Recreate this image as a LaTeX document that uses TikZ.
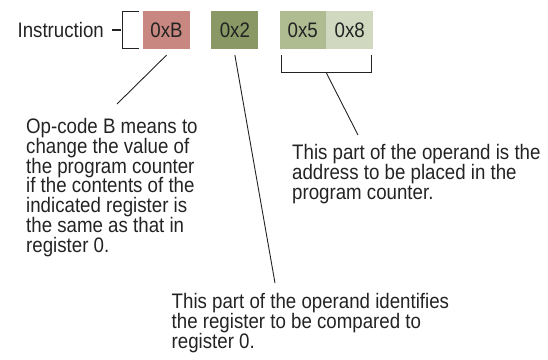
\documentclass[tikz,border=0pt]{standalone}
\usepackage{fontspec}
\setmainfont{Liberation Sans}[FakeStretch=0.89]
\usetikzlibrary{positioning}
\definecolor{OpRed}{RGB}{200,135,128}
\definecolor{RegGreen}{RGB}{137,152,100}
\definecolor{AddrHi}{RGB}{175,187,145}
\definecolor{AddrLo}{RGB}{208,217,192}
\definecolor{Ink}{RGB}{35,35,35}

\begin{document}
\begin{tikzpicture}[x=1pt, y=-1pt,
    every node/.style={font=\fontsize{21}{19.8}\selectfont, text=Ink},
    field/.style={minimum height=38pt, minimum width=47pt, inner sep=0pt},
    note/.style={align=left, inner sep=0pt, anchor=north west},
    bracket/.style={draw=Ink, line width=1.1pt},
    leader/.style={draw=Ink, line width=0.9pt}]
  \useasboundingbox (0,0) rectangle (548,359);
  \node[field, fill=OpRed] (opB) at (166.5,30) {0xB};
  \node[field, fill=RegGreen, right=21pt of opB] (op2) {0x2};
  \node[field, fill=AddrHi, minimum width=46pt, right=21pt of op2] (op5) {0x5};
  \node[field, fill=AddrLo, right=0pt of op5] (op8) {0x8};
  \node[anchor=east, inner sep=0pt] (instr) at (104,30) {Instruction};
  \draw[bracket] ([xshift=8pt]instr.east) -- ++(9,0);
  \draw[bracket] ([xshift=-4pt, yshift=-0.5pt]opB.north west) -- ++(-16.5,0)
    |- ([xshift=-4pt, yshift=0.5pt]opB.south west);
  \draw[bracket] ([xshift=2pt, yshift=-6pt]op5.south west) -- ++(0,17) coordinate (addrbrk)
    -| ([xshift=-2pt, yshift=-6pt]op8.south east);
  \node[note] (noteop) at (26,118) {Op-code B means to\\change the value of\\the program counter\\if the contents of the\\indicated register is\\the same as that in\\register 0.};
  \node[note] (noteaddr) at (292,144) {This part of the operand is the\\address to be placed in the\\program counter.};
  \node[note] (notereg) at (171.5,293) {This part of the operand identifies\\the register to be compared to\\register 0.};
  \draw[leader] ([yshift=-6pt]opB.south) -- ([xshift=91pt, yshift=14pt]noteop.north west);
  \draw[leader] ([yshift=-6pt]op2.south) -- ([xshift=103.5pt, yshift=10pt]notereg.north west);
  \draw[leader] (addrbrk -| op8.west) -- ([xshift=66pt, yshift=9pt]noteaddr.north west);
\end{tikzpicture}
\end{document}
